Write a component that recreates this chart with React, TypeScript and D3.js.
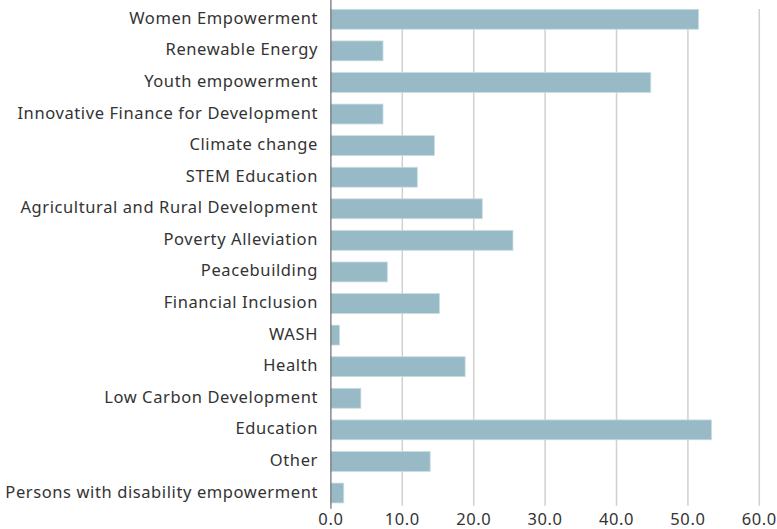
import React from "react";
import * as d3 from "d3";

const categories = [
  "Women Empowerment",
  "Renewable Energy",
  "Youth empowerment",
  "Innovative Finance for Development",
  "Climate change",
  "STEM Education",
  "Agricultural and Rural Development",
  "Poverty Alleviation",
  "Peacebuilding",
  "Financial Inclusion",
  "WASH",
  "Health",
  "Low Carbon Development",
  "Education",
  "Other",
  "Persons with disability empowerment",
];
const values = [51.5, 7.3, 44.8, 7.3, 14.5, 12.1, 21.2, 25.5, 7.9, 15.2, 1.2, 18.8, 4.2, 53.3, 13.9, 1.8];
const ticks = [0, 10, 20, 30, 40, 50, 60];

const W = 777;
const H = 529;
const left = 330.9;
const right = 759.3;
const top = 3.5;
const bottom = 508.8;

export default function App() {
  const x = d3.scaleLinear().domain([0, 60]).range([left, right]);
  const y = d3.scaleBand<string>().domain(categories).range([top, bottom]).paddingInner(0.37).paddingOuter(0.185);
  const font = "'Noto Sans', sans-serif";
  return (
    <svg width={W} height={H} style={{ position: "absolute", left: 0, top: 0, background: "#fff" }}>
      {ticks.slice(1).map((t) => (
        <line key={t} x1={x(t)} x2={x(t)} y1={9} y2={bottom - 3} stroke="#d0d0d0" strokeWidth={1.5} />
      ))}
      {categories.map((c, i) => (
        <rect
          key={c}
          x={x(0)}
          y={y(c)}
          width={x(values[i]) - x(0)}
          height={y.bandwidth()}
          fill="#98bac6"
          stroke="#c9dde3"
          strokeWidth={0.8}
        />
      ))}
      <line x1={x(0)} x2={x(0)} y1={0} y2={bottom} stroke="#6b6b6b" strokeWidth={1.2} />
      {categories.map((c) => (
        <text
          key={c}
          x={318}
          y={(y(c) as number) + y.bandwidth() / 2 - 2}
          textAnchor="end"
          dominantBaseline="central"
          fontFamily={font}
          fontSize={16.5}
          letterSpacing={0.6}
          fill="#333"
        >
          {c}
        </text>
      ))}
      {ticks.map((t) => (
        <text
          key={t}
          x={x(t)}
          y={518.5}
          textAnchor="middle"
          dominantBaseline="central"
          fontFamily={font}
          fontSize={16.5}
          letterSpacing={0.6}
          fill="#333"
        >
          {t.toFixed(1)}
        </text>
      ))}
    </svg>
  );
}
